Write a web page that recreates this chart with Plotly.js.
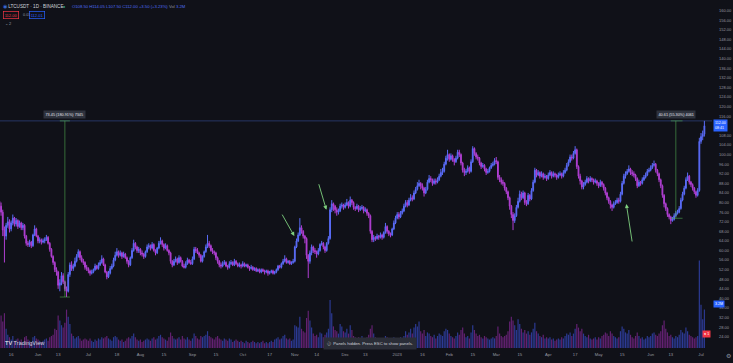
<!DOCTYPE html>
<html>
<head>
<meta charset="utf-8">
<script src="https://cdn.plot.ly/plotly-3.0.1.min.js"></script>
<style>
html,body{margin:0;padding:0;background:#101118;}
#chart{width:733px;height:363px;}
</style>
</head>
<body>
<div id="chart"></div>
<script>
// ---------------- DATA ----------------
const symbolLabel = 'LTCUSDT · 1D · BINANCE';
const firstDay = [2022, 4, 9];   // 2022-05-09, daily candles
const firstOpen = 80.5;

const closes = [
78.5,76.0,68.5,66.0,70.5,72.0,69.0,71.5,73.5,71.0,
72.5,70.0,71.5,69.5,70.5,66.0,63.0,62.5,63.5,62.0,
66.5,69.0,66.0,64.0,64.5,63.5,64.0,64.5,65.5,63.0,
60.5,57.5,55.0,52.0,51.0,45.5,46.5,49.5,47.0,44.0,
43.0,50.0,54.0,52.5,53.5,55.5,57.5,59.5,57.0,55.5,
55.0,53.0,52.5,51.5,50.5,51.0,52.0,53.5,52.5,54.0,
55.0,56.5,54.0,51.0,49.0,50.5,52.5,53.5,56.0,58.0,
59.5,58.0,59.0,57.5,58.5,57.0,55.5,54.0,57.0,60.0,
63.0,61.5,60.0,60.5,59.0,58.5,57.5,59.5,61.5,62.0,
61.0,62.5,60.0,59.0,61.0,63.0,64.0,62.5,61.0,62.0,
60.0,59.0,55.5,54.0,55.5,56.5,55.0,57.0,55.5,53.5,
53.0,54.5,56.0,55.0,54.5,56.5,60.5,60.0,59.0,58.0,
55.5,57.5,59.5,61.5,63.0,62.0,60.0,59.5,59.0,57.0,
55.5,54.0,53.5,54.5,55.0,53.5,53.0,54.5,55.0,54.0,
55.5,54.5,53.5,54.0,53.5,54.5,53.5,54.0,53.0,52.5,
53.0,52.0,52.5,51.5,52.0,51.0,52.0,51.5,51.0,51.5,
50.5,51.0,51.5,50.5,51.0,52.0,53.5,53.0,54.5,55.5,
56.5,55.0,55.5,54.5,55.0,55.5,61.5,64.0,66.5,69.5,
68.0,66.0,65.0,58.0,55.5,59.0,61.5,60.0,59.5,58.5,
60.0,62.5,63.0,61.5,60.0,63.0,65.0,77.0,79.5,78.5,
77.0,76.0,76.5,78.5,79.0,78.0,79.0,80.0,78.5,81.0,
80.0,78.0,77.5,78.5,77.0,77.5,78.0,76.5,77.0,75.5,
74.5,68.0,64.5,65.5,65.0,66.0,65.5,66.5,65.5,67.5,
70.0,68.0,67.0,66.5,69.0,71.5,73.5,75.0,74.0,75.5,
76.5,78.5,80.0,79.0,81.0,82.0,81.5,84.0,85.5,87.0,
88.0,87.0,86.0,84.0,85.5,88.5,90.0,89.5,88.0,89.0,
88.5,89.5,91.0,92.5,93.0,96.0,98.5,100.0,98.0,99.5,
98.0,97.0,98.5,101.0,100.0,96.5,93.5,92.5,93.0,94.5,
93.0,97.0,102.5,100.5,99.0,98.5,96.5,95.0,95.5,94.0,
92.5,93.0,94.5,95.5,96.0,97.5,97.0,90.5,89.5,88.5,
88.0,86.0,84.5,82.0,78.5,75.0,72.5,74.5,78.0,80.5,
83.5,82.0,84.0,80.0,79.5,83.0,81.5,85.0,88.5,93.5,
91.5,92.5,91.0,92.0,90.5,91.0,90.0,91.5,92.5,91.0,
92.0,91.5,90.5,91.5,92.0,91.0,92.5,93.5,95.5,97.0,
99.0,98.5,100.5,102.0,95.0,91.0,89.0,86.5,87.5,88.5,
90.0,89.0,90.0,89.5,88.5,89.0,88.0,87.0,88.5,87.5,
86.0,84.0,82.0,80.5,79.0,78.0,79.5,80.0,81.0,80.5,
83.5,88.0,91.0,92.0,93.0,94.0,92.5,92.0,91.5,90.0,
87.0,88.5,88.0,89.5,90.5,91.5,93.0,93.5,94.5,95.5,
96.0,93.5,92.0,89.5,87.0,83.0,79.5,77.5,75.0,74.0,
72.5,73.0,74.5,75.5,76.0,77.5,81.0,83.5,86.0,89.5,
91.0,88.5,87.5,86.0,84.5,83.0,85.0,105.5,107.5,108.5,
112.0
];

const highs = [
82.0,80.0,77.0,70.0,71.5,74.0,73.0,72.5,75.0,74.0,
73.5,73.0,72.5,72.0,71.5,71.0,66.5,64.0,64.5,64.0,
67.0,70.5,69.5,66.5,65.5,65.0,65.0,65.5,66.5,66.0,
63.5,61.0,58.0,55.5,53.0,51.5,48.0,51.0,50.5,47.5,
45.0,51.0,55.0,55.5,54.5,57.0,58.5,60.5,60.0,58.0,
56.5,55.5,54.0,53.0,52.0,52.0,52.5,54.5,54.0,55.0,
56.0,58.0,57.0,54.5,51.5,51.5,53.5,54.5,57.0,59.5,
61.0,60.0,60.0,59.5,59.5,59.0,57.5,56.0,57.5,61.0,
64.5,63.5,62.0,61.5,61.0,60.0,59.0,60.0,62.5,63.0,
62.5,63.5,63.0,60.5,61.5,64.0,65.5,64.5,63.0,63.0,
62.5,60.5,59.5,56.0,56.5,57.5,57.0,58.0,57.5,56.0,
54.5,55.5,57.0,56.5,56.0,57.5,61.5,61.5,61.0,59.5,
58.5,58.0,60.0,62.5,66.5,64.0,62.5,61.0,60.0,59.5,
57.5,56.0,55.0,55.5,56.0,55.5,54.0,55.5,56.0,55.5,
56.5,56.0,55.0,55.0,54.5,55.5,55.0,54.5,54.5,53.5,
54.0,53.5,53.0,53.0,52.5,52.5,52.5,52.5,52.0,52.0,
52.0,51.5,52.0,52.0,51.5,52.5,54.0,54.0,55.0,56.5,
58.0,57.0,56.0,56.0,55.5,56.5,62.0,65.0,67.5,73.5,
70.5,68.5,66.5,65.5,58.5,60.0,62.5,62.0,61.0,60.0,
61.0,63.0,64.0,63.5,62.0,63.5,66.0,78.0,81.0,80.0,
79.0,78.0,77.5,79.5,80.0,79.5,80.0,81.5,80.5,82.5,
81.5,80.5,78.5,79.5,79.0,78.5,79.0,78.5,78.0,77.5,
76.0,75.0,68.5,66.5,66.0,67.0,66.5,67.5,67.0,68.0,
71.5,70.5,68.5,67.5,69.5,72.5,74.5,76.0,76.0,76.5,
77.5,79.5,81.0,81.0,82.0,83.5,83.0,85.0,86.5,88.5,
89.5,88.5,88.0,86.5,86.5,89.5,91.5,91.0,90.0,90.0,
90.0,90.5,92.0,94.0,94.5,97.0,99.5,102.0,100.5,100.5,
100.0,98.5,99.5,102.0,102.0,100.5,97.0,94.5,94.0,95.5,
95.0,98.0,103.5,103.0,101.0,100.0,99.0,97.0,96.5,96.0,
94.5,94.0,95.0,96.5,97.0,98.5,99.0,97.5,91.5,90.5,
89.5,88.5,86.5,85.0,82.5,79.0,76.0,75.5,79.0,82.0,
85.0,84.5,85.0,84.5,81.0,84.0,83.5,86.0,89.5,94.5,
94.0,93.5,93.0,93.0,92.5,92.0,91.5,92.5,93.5,93.0,
93.0,92.5,92.0,92.5,93.0,92.5,93.5,94.5,96.5,98.0,
100.0,100.0,101.5,103.5,102.5,95.5,92.0,89.5,88.5,89.5,
91.0,90.5,91.0,90.5,90.0,90.0,89.5,88.5,89.5,89.0,
88.0,86.5,84.5,82.5,81.0,79.5,80.5,81.0,82.0,82.0,
84.5,89.0,92.0,93.0,94.0,95.5,94.5,93.5,93.0,92.0,
90.5,89.5,89.0,90.5,91.5,92.5,94.0,94.5,95.5,96.5,
97.5,96.5,94.0,92.5,90.0,87.5,83.5,80.0,78.0,75.5,
74.5,74.0,75.5,76.5,77.0,78.5,82.0,84.5,87.0,90.5,
92.5,91.5,89.0,88.0,86.5,85.0,86.0,107.0,109.0,110.0,
114.05
];

const lows = [
75.5,74.5,66.0,55.0,64.5,69.5,67.5,68.0,70.5,70.0,
70.0,69.0,69.5,68.5,68.5,65.0,62.0,61.5,61.5,61.0,
61.5,66.0,65.5,63.0,63.0,62.5,63.0,63.0,64.0,62.5,
59.5,57.0,54.0,51.0,49.5,44.0,43.0,45.5,46.0,43.0,
40.6,42.5,49.0,51.5,51.5,53.0,55.0,57.0,56.0,55.0,
54.0,52.0,51.5,50.5,49.5,50.0,50.5,51.5,52.0,52.0,
53.5,54.5,53.5,50.5,48.0,48.5,50.0,52.0,53.0,55.5,
57.5,57.0,57.5,56.5,57.0,56.5,54.5,53.0,53.5,56.5,
59.5,60.5,59.0,59.0,58.0,57.5,56.5,57.0,59.0,60.5,
60.0,60.5,59.5,58.0,58.5,60.5,62.5,61.5,60.0,60.5,
59.5,58.0,54.5,53.0,53.5,55.0,54.0,54.5,55.0,53.0,
52.5,52.5,54.0,54.5,54.0,54.0,56.0,59.0,58.5,57.0,
55.0,55.0,57.0,59.0,61.0,61.0,59.5,58.5,58.0,56.0,
54.5,53.0,52.5,53.0,54.0,53.0,52.0,52.5,54.0,53.5,
53.5,54.0,53.0,53.0,52.5,53.0,53.0,53.0,52.5,51.5,
52.0,51.5,51.5,51.0,51.0,50.5,50.5,51.0,50.0,50.5,
49.5,50.0,50.5,50.0,50.0,50.5,51.5,52.5,52.5,54.0,
55.0,54.5,54.5,54.0,54.0,54.5,55.0,61.0,63.5,66.0,
67.0,65.0,63.0,56.5,48.5,54.5,58.0,59.0,58.5,57.0,
58.0,59.5,62.0,60.5,59.0,59.5,62.5,64.5,76.0,76.5,
75.5,74.5,75.0,76.0,77.5,77.0,77.5,78.5,77.5,78.0,
79.0,77.0,76.5,77.0,76.0,76.5,77.0,75.5,76.0,74.5,
73.5,67.0,63.5,63.5,64.0,64.5,64.5,65.0,64.5,65.0,
67.0,67.0,66.0,65.5,66.0,68.5,71.0,73.0,73.0,73.5,
75.0,76.0,78.0,78.0,78.5,80.5,80.5,81.0,83.5,85.0,
86.5,85.5,85.0,82.5,83.5,85.0,88.0,88.5,87.0,87.5,
87.5,88.0,89.0,90.5,91.5,92.5,95.5,97.5,97.0,97.5,
97.0,95.5,96.5,98.0,99.0,95.5,92.5,91.0,91.5,92.5,
92.0,92.5,96.5,99.5,98.0,97.5,95.5,94.0,94.5,93.0,
91.5,92.0,92.5,94.0,95.0,95.5,96.0,89.5,88.5,87.5,
87.0,85.0,83.5,81.0,77.0,73.5,68.5,71.5,74.0,77.5,
80.0,81.0,81.5,79.0,78.5,79.0,80.5,81.0,84.5,88.0,
90.5,91.0,90.0,90.5,89.5,90.0,89.0,89.5,91.0,90.0,
90.5,90.5,89.5,90.0,91.0,90.0,90.5,92.0,93.0,95.0,
96.5,97.5,98.0,100.0,94.0,90.0,87.5,85.5,85.5,87.0,
88.0,88.0,88.5,88.5,87.5,88.0,87.0,86.0,86.5,86.5,
85.0,83.0,81.0,79.5,77.5,76.5,77.5,79.0,79.5,79.5,
80.0,83.0,87.5,90.0,91.5,92.5,91.5,91.0,90.5,89.0,
86.0,86.5,87.0,87.5,89.0,90.0,91.0,92.5,93.0,94.0,
95.0,92.5,91.0,88.5,86.0,82.0,78.0,76.5,74.0,73.0,
71.0,72.0,72.5,74.0,75.0,75.5,77.0,80.5,83.0,85.5,
89.0,87.5,86.5,85.0,83.5,82.0,82.5,84.5,104.5,106.0,
107.5
];

// volume, millions of LTC
const volumes = [
2.4,2.7,2.2,2.9,1.6,1.1,0.9,0.7,1.0,0.6,0.7,
0.8,0.6,0.7,0.5,0.9,1.0,0.7,0.6,0.5,0.9,1.0,0.8,
0.7,0.6,0.5,0.6,0.7,0.8,0.6,0.9,1.0,1.1,
1.6,1.5,2.7,2.3,1.9,1.7,2.1,3.2,2.6,2.0,1.2,1.0,0.8,
0.9,1.0,0.8,0.6,0.7,0.8,0.7,0.6,0.8,0.6,0.5,0.7,0.6,0.8,0.7,
0.9,0.8,0.9,1.0,0.8,0.7,0.6,0.9,1.0,0.9,0.7,0.6,0.7,0.5,0.6,0.8,0.9,0.8,1.0,1.2,
0.9,0.7,0.6,0.7,0.5,0.6,0.7,0.8,0.7,0.6,0.8,0.9,0.7,0.8,1.0,1.1,0.9,0.8,0.7,0.6,
0.9,1.3,1.0,0.8,0.7,0.8,0.9,0.7,1.0,0.8,0.7,0.9,0.7,0.6,0.8,1.2,1.0,0.8,0.7,1.0,
0.9,1.0,1.1,1.4,1.0,0.9,0.8,0.7,0.9,1.0,0.8,0.7,0.6,0.8,0.7,0.6,0.8,0.7,0.5,0.6,
0.7,0.6,0.5,0.6,0.5,0.4,0.6,0.5,0.4,0.5,0.6,0.5,0.4,0.5,0.4,0.5,0.6,0.4,0.5,0.4,
0.5,0.6,0.5,0.7,0.8,0.9,0.7,0.8,1.0,1.1,0.8,0.7,0.8,0.6,0.7,
1.9,1.8,1.7,2.6,1.6,1.4,1.3,2.5,3.1,2.3,1.7,1.2,1.0,1.1,0.9,1.3,1.2,0.9,1.1,1.3,1.6,
4.0,2.9,1.8,1.5,1.4,1.2,2.0,1.8,1.4,1.3,1.6,1.2,1.9,1.5,
1.0,0.9,0.8,0.9,0.7,1.0,0.8,0.7,0.9,1.1,1.6,1.9,1.2,0.9,0.7,0.6,0.8,0.7,0.6,1.0,0.9,0.7,0.6,0.8,0.9,0.8,
0.8,0.7,0.9,0.8,1.0,1.4,1.1,1.3,1.6,1.2,1.7,2.0,1.8,2.2,1.4,1.2,1.5,1.0,1.3,1.2,1.0,0.9,1.1,0.8,1.0,1.2,1.1,1.0,1.4,1.6,1.5,
1.2,1.0,0.9,0.8,1.0,1.3,1.1,1.5,1.7,1.2,0.9,1.0,0.8,1.3,1.9,1.5,1.2,1.0,1.1,0.9,0.8,1.0,0.9,0.8,0.7,0.8,0.9,0.8,
1.0,1.8,1.2,1.0,0.9,1.0,1.1,1.4,2.2,2.6,2.3,1.9,1.5,2.4,2.0,1.6,1.3,1.5,1.2,1.4,1.1,1.3,1.6,2.1,1.4,1.2,1.0,0.9,1.1,0.8,0.9,
0.8,0.9,0.7,0.8,0.6,0.7,0.8,0.7,0.9,0.8,1.0,1.2,1.1,1.3,1.0,1.2,1.6,2.0,1.7,1.4,1.6,1.2,1.0,0.9,1.1,0.8,0.7,0.8,0.9,0.7,
0.9,0.8,1.0,1.1,1.3,1.2,1.0,1.4,1.2,1.0,0.9,0.8,0.9,1.4,1.8,1.6,1.3,1.2,1.5,1.1,0.9,0.8,1.0,1.3,1.0,0.8,0.9,0.7,0.8,1.0,0.9,
1.0,1.2,1.3,1.1,1.0,1.2,1.4,1.9,2.3,1.6,1.3,1.0,1.1,0.9,0.8,1.0,0.9,1.1,1.5,1.3,1.2,1.7,1.4,1.1,1.0,0.9,0.8,0.9,1.0,
7.3,3.6,2.4,3.2
];

const tickDates = ['2022-05-16','2022-06-01','2022-06-13','2022-07-01','2022-07-18','2022-08-01','2022-08-15',
  '2022-09-01','2022-09-15','2022-10-01','2022-10-17','2022-11-01','2022-11-14','2022-12-01','2022-12-13',
  '2023-01-01','2023-01-16','2023-02-01','2023-02-15','2023-03-01','2023-03-15','2023-04-01','2023-04-17',
  '2023-05-01','2023-05-15','2023-06-01','2023-06-13','2023-07-01'];
const tickLabels = ['16','Jun','13','Jul','18','Aug','15','Sep','15','Oct','17','Nov','14','Dec','13',
  '2023','16','Feb','15','Mar','15','Apr','17','May','15','Jun','13','Jul'];

// price-range measurements drawn on the chart
const measureTop = 114.05;
const measureLeftLow = 40.60, measureLeftDate = '2022-06-17';
const measureRightLow = 73.44, measureRightDate = '2023-06-16';

// ---------------- BUILD ----------------
const N = closes.length;
const dates = [], opens = [], H = [], L = [];
for (let i = 0; i < N; i++) {
  const d = new Date(Date.UTC(firstDay[0], firstDay[1], firstDay[2]) + i * 86400000);
  dates.push(d.toISOString().slice(0, 10));
  const o = i === 0 ? firstOpen : closes[i - 1];
  opens.push(o);
  H.push(Math.max(highs[i], o, closes[i]));
  L.push(Math.min(lows[i], o, closes[i]));
}
const UP = '#5a6cf7', DN = '#b03fd2';
const volColors = closes.map((c, i) => c >= opens[i] ? 'rgba(62,84,225,0.62)' : 'rgba(150,44,170,0.62)');

const W = 733, HT = 363, MR = 21, MB = 15;
const PW = W - MR, PH = HT - MB;
const px = x => x / PW, py = y => 1 - y / PH;
const FONT = 'Liberation Sans, Arial, sans-serif';

const last = N - 1;
// price-scale labels every 4; the one hidden under the last-price marker is not drawn
const priceTicks = [];
for (let v = 24; v <= 160; v += 4) if (Math.abs(v - closes[last]) >= 3) priceTicks.push(v);

const chg = closes[last] - opens[last];
const pct = chg / opens[last] * 100;
const f2 = v => v.toFixed(2);

const traces = [
  {type: 'bar', x: dates, y: volumes, yaxis: 'y2', marker: {color: volColors, line: {width: 0}},
   hoverinfo: 'skip'},
  {type: 'candlestick', x: dates, open: opens, high: H, low: L, close: closes,
   increasing: {line: {color: UP, width: 1}, fillcolor: UP},
   decreasing: {line: {color: DN, width: 1}, fillcolor: DN},
   whiskerwidth: 0, hoverinfo: 'skip'}
];

const green = 'rgba(80,170,80,0.75)';
const shapes = [
  {type: 'line', xref: 'paper', x0: 0, x1: 1, yref: 'y', y0: measureTop, y1: measureTop,
   line: {color: 'rgba(70,100,200,0.55)', width: 0.8}},
  // left measure
  {type: 'line', xref: 'x', x0: measureLeftDate, x1: measureLeftDate, yref: 'y', y0: measureLeftLow, y1: measureTop, line: {color: green, width: 0.8}},
  {type: 'line', xref: 'x', x0: '2022-06-14', x1: '2022-06-20', yref: 'y', y0: measureLeftLow, y1: measureLeftLow, line: {color: green, width: 0.8}},
  {type: 'line', xref: 'x', x0: '2022-06-14', x1: '2022-06-20', yref: 'y', y0: measureTop, y1: measureTop, line: {color: green, width: 0.8}},
  // right measure
  {type: 'line', xref: 'x', x0: measureRightDate, x1: measureRightDate, yref: 'y', y0: measureRightLow, y1: measureTop, line: {color: green, width: 0.8}},
  {type: 'line', xref: 'x', x0: '2023-06-13', x1: '2023-06-20', yref: 'y', y0: measureRightLow, y1: measureRightLow, line: {color: green, width: 0.8}},
  {type: 'line', xref: 'x', x0: '2023-06-13', x1: '2023-06-20', yref: 'y', y0: measureTop, y1: measureTop, line: {color: green, width: 0.8}}
];

function measureText(low) {
  const d = measureTop - low;
  return `${f2(d)} (${f2(d / low * 100)}%) ${Math.round(d * 100)}`;
}
const ann = [];
function txt(x, y, text, opts) {
  ann.push(Object.assign({xref: 'paper', yref: 'paper', x: px(x), y: py(y), text: text, showarrow: false,
    xanchor: 'left', yanchor: 'middle', font: {family: FONT, size: 4.5, color: '#d1d4dc'}}, opts || {}));
}
// header
txt(1, 6, '<span style="color:#3a6bd8">◉</span> ' + symbolLabel, {font: {family: FONT, size: 4.6, color: '#d1d4dc'}});
txt(61, 6, '●', {font: {family: FONT, size: 4, color: '#22ab94'}});
txt(70, 6, `O${f2(opens[last])} H${f2(H[last])} L${f2(L[last])} C${f2(closes[last])} +${f2(chg)} (+${f2(pct)}%) <span style="color:#8a8f9c">Vol</span> ${volumes[last]}M`,
  {font: {family: FONT, size: 4.2, color: '#4f6cf0'}});
txt(3, 15.5, f2(closes[last]), {bordercolor: '#f23645', borderwidth: 0.7, borderpad: 1, font: {family: FONT, size: 4, color: '#f23645'}});
txt(21, 15.5, '0.01', {font: {family: FONT, size: 3.8, color: '#9598a1'}});
txt(29, 15.5, f2(closes[last] + 0.01), {bordercolor: '#2962ff', borderwidth: 0.7, borderpad: 1, font: {family: FONT, size: 4, color: '#2962ff'}});
txt(3, 23, '⌄ 2', {font: {family: FONT, size: 4, color: '#9598a1'}});
// measure labels
ann.push({xref: 'x', yref: 'y', x: measureLeftDate, y: measureTop, yshift: 6, text: measureText(measureLeftLow), showarrow: false,
  bgcolor: '#2e323d', borderpad: 1.5, font: {family: FONT, size: 3.8, color: '#e0e3eb'}});
ann.push({xref: 'x', yref: 'y', x: measureRightDate, y: measureTop, yshift: 6, text: measureText(measureRightLow), showarrow: false,
  bgcolor: '#2e323d', borderpad: 1.5, font: {family: FONT, size: 3.8, color: '#e0e3eb'}});
// hand-drawn arrows
const arrowStyle = {text: '', showarrow: true, arrowhead: 2, arrowsize: 0.9, arrowwidth: 0.9, arrowcolor: '#7fd07f', xref: 'x', yref: 'y'};
ann.push(Object.assign({x: '2022-10-31 17:00', y: 66.0, ax: -13, ay: -23}, arrowStyle));
ann.push(Object.assign({x: '2022-11-19 19:00', y: 77.0, ax: -8, ay: -27}, arrowStyle));
ann.push(Object.assign({x: '2023-05-17 12:00', y: 79.4, ax: 6, ay: 39}, arrowStyle));
// price scale boxes
ann.push({xref: 'paper', yref: 'y', x: px(713), y: closes[last], xanchor: 'left', yanchor: 'middle', showarrow: false,
  text: f2(closes[last]) + '<br>08:41', bgcolor: '#2962ff', borderpad: 1, align: 'left',
  font: {family: FONT, size: 3.6, color: '#ffffff'}});
txt(713, 304, volumes[last] + 'M', {bgcolor: '#2962ff', borderpad: 1, font: {family: FONT, size: 3.6, color: '#ffffff'}});
txt(702, 334, '● 1', {bgcolor: '#f23645', borderpad: 1, font: {family: FONT, size: 3.6, color: '#ffffff'}});
txt(724, 355, '⚙', {font: {family: 'DejaVu Sans', size: 6, color: '#8a8f9c'}});
// watermark & toast
txt(3, 343, '<b>TV</b> TradingView', {font: {family: FONT, size: 5.6, color: '#d1d4dc'}});
txt(323, 343, 'ⓘ  Panels hidden. Press ESC to show panels.', {bgcolor: '#2a2d37', borderpad: 3,
  font: {family: FONT, size: 4.2, color: '#d1d4dc'}});

const layout = {
  width: W, height: HT,
  margin: {l: 0, r: MR, t: 0, b: MB, pad: 0},
  paper_bgcolor: '#101118', plot_bgcolor: '#101118',
  showlegend: false, dragmode: false,
  xaxis: {type: 'date', range: ['2022-05-09 08:38', '2023-07-07 13:00'], rangeslider: {visible: false},
    showgrid: false, zeroline: false, showline: false, ticks: '',
    tickmode: 'array', tickvals: tickDates, ticktext: tickLabels, ticklabelstandoff: 3,
    tickfont: {family: FONT, size: 4.2, color: '#9598a1'}},
  yaxis: {side: 'right', range: [19.34, 164.46], showgrid: false, zeroline: false, showline: false, ticks: '',
    tickmode: 'array', tickvals: priceTicks, tickformat: '.2f', ticklabelstandoff: 6,
    tickfont: {family: FONT, size: 4, color: '#9598a1'}},
  yaxis2: {overlaying: 'y', range: [0, 29], visible: false, fixedrange: true},
  bargap: 0.3,
  shapes: shapes,
  annotations: ann
};

Plotly.newPlot('chart', traces, layout, {staticPlot: true, displayModeBar: false});
</script>
</body>
</html>
